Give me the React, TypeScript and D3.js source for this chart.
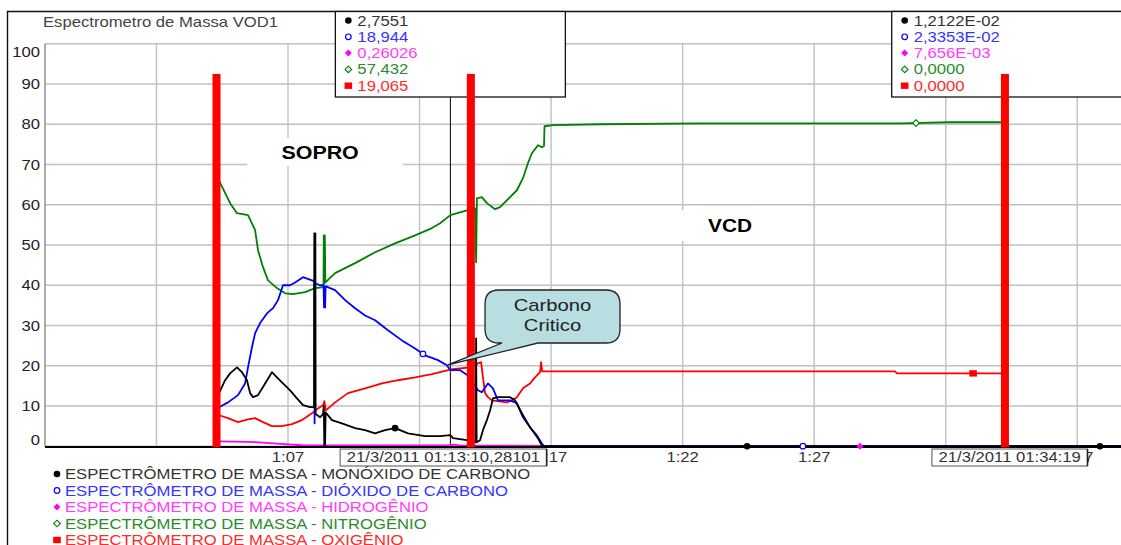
import React from "react";
import * as d3 from "d3";

type Pt = [number, number]; // [minutes after 01:00:00, % value]

// ---- series (minutes after 01:00, %) ----
const monoxido: Pt[] = [
  [4.38, 13.2], [4.61, 16.4], [4.8, 18.1], [5.06, 19.6], [5.25, 18.4], [5.44, 16.4], [5.56, 13.2],
  [5.67, 12.2], [5.86, 12.7], [6.13, 15.6], [6.39, 18.4], [6.58, 17.1], [6.81, 15.6], [7.08, 13.9],
  [7.34, 11.9], [7.57, 10.2], [7.84, 9.7], [7.99, 9.7], [8.0, 52.9], [8.04, 52.9], [8.05, 8.0],
  [8.22, 7.2], [8.33, 8.0], [8.36, 10.0], [8.38, 0], [8.41, 0], [8.43, 8.4], [8.67, 6.5], [9.05, 5.7],
  [9.55, 4.5], [9.93, 4.0], [10.31, 3.2], [10.69, 4.0], [11.07, 4.5], [11.56, 3.2], [12.21, 2.5],
  [12.78, 2.5], [13.27, 2.0], [13.8, 1.5], [14.13, 1.0], [14.15, 26.8], [14.17, 1.0], [14.3, 1.5],
  [14.41, 4.0], [14.56, 6.5], [14.68, 8.9], [14.79, 11.9], [14.98, 12.2], [15.44, 12.2], [15.63, 11.4],
  [15.89, 8.2], [16.2, 4.7], [16.5, 2.0], [16.65, 0.2], [16.75, 0.01], [38.66, 0.01],
];

const dioxido: Pt[] = [
  [4.38, 9.7], [4.72, 10.9], [5.1, 12.7], [5.37, 15.6], [5.48, 19.6], [5.63, 24.6], [5.75, 28.1],
  [5.94, 30.6], [6.2, 33.0], [6.43, 34.3], [6.62, 36.3], [6.81, 40.0], [7.08, 40.0], [7.27, 40.7],
  [7.57, 42.0], [7.91, 41.2], [8.0, 41.0], [8.01, 5.7], [8.03, 40.5], [8.22, 40.0], [8.35, 40.0], [8.37, 34.5],
  [8.39, 39.5], [8.41, 34.5], [8.43, 39.8], [8.6, 39.3], [8.79, 38.8], [9.17, 36.3], [9.55, 34.3],
  [9.93, 32.5], [10.31, 31.3], [10.8, 28.8], [11.33, 26.3], [11.83, 24.3], [12.21, 22.6], [12.7, 21.4],
  [13.04, 20.1], [13.54, 18.9], [13.84, 17.6], [14.22, 13.9], [14.37, 13.4], [14.6, 15.6], [14.79, 14.4],
  [14.98, 11.4], [15.44, 11.4], [15.7, 10.7], [15.93, 7.2], [16.2, 4.7], [16.46, 2.7], [16.65, 0.7],
  [16.73, 0.02], [38.66, 0.02],
];

const hidrogenio: Pt[] = [
  [4.38, 1.2], [5.48, 1.1], [5.75, 1.0], [6.7, 0.6], [7.53, 0.25], [8.22, 0.2], [13.3, 0.4],
  [13.5, 0.2], [16.77, 0.1], [16.9, 0.01], [38.66, 0.01],
];

const nitrogenio: Pt[] = [
  [4.38, 66.0], [4.8, 60.4], [5.06, 57.9], [5.48, 57.4], [5.75, 53.7], [5.86, 48.7], [6.05, 44.5],
  [6.24, 41.2], [6.58, 39.3], [6.89, 38.0], [7.19, 37.8], [7.65, 38.3], [8.03, 39.3], [8.29, 39.5],
  [8.35, 40.0], [8.36, 52.4], [8.38, 40.5], [8.4, 52.4], [8.42, 40.7], [8.79, 43.0], [9.55, 45.5],
  [10.31, 48.2], [11.07, 50.4], [11.83, 52.4], [12.47, 54.2], [12.78, 55.4], [13.8, 58.6], [14.11, 59.1],
  [14.15, 45.7], [14.18, 61.6], [14.37, 61.9], [14.56, 60.4], [14.87, 58.9], [15.06, 59.4], [15.44, 61.9],
  [15.7, 63.6], [15.93, 66.6], [16.12, 70.3], [16.27, 72.8], [16.5, 74.8], [16.65, 74.3], [16.73, 74.6],
  [16.75, 79.5], [17.07, 79.8], [18.86, 80.0], [22.66, 80.2], [30.26, 80.2], [32.16, 80.5], [34.26, 80.5],
  [34.27, 39.5], [34.31, 39.5], [38.66, 0],
];

const oxigenio: Pt[] = [
  [4.38, 7.7], [4.72, 7.0], [5.1, 6.0], [5.48, 6.7], [5.75, 7.0], [6.05, 6.0], [6.39, 5.0], [6.77, 5.0],
  [7.15, 5.5], [7.53, 6.5], [7.91, 8.2], [8.14, 9.4], [8.33, 10.2], [8.38, 11.2], [8.44, 8.9], [8.79, 10.9],
  [9.28, 13.2], [9.93, 14.4], [10.57, 15.6], [11.18, 16.4], [11.83, 17.1], [12.47, 17.9], [12.78, 18.4],
  [13.92, 19.6], [14.22, 20.6], [14.34, 20.9], [14.41, 17.1], [14.49, 13.2], [14.6, 12.2], [14.75, 11.4],
  [15.32, 10.9], [15.51, 11.4], [15.7, 12.2], [15.93, 14.4], [16.2, 15.6], [16.39, 17.1], [16.58, 18.4],
  [16.62, 20.9], [16.66, 18.6], [18.86, 18.6], [30.07, 18.6], [30.15, 18.1], [34.25, 18.1], [34.26, 0],
  [38.66, 0],
];

// symbol positions along each series (minutes after 01:00)
const monoxidoMarks = [11.07, 24.45, 37.86];
const dioxidoMarks = [12.13, 26.57];
const hidrogenioMarks = [28.74];
const nitrogenioMarks = [30.87];
const oxigenioMarks = [33.04];

const seriesNames = [
  "ESPECTRÔMETRO DE MASSA - MONÓXIDO DE CARBONO",
  "ESPECTRÔMETRO DE MASSA - DIÓXIDO DE CARBONO",
  "ESPECTRÔMETRO DE MASSA - HIDROGÊNIO",
  "ESPECTRÔMETRO DE MASSA - NITROGÊNIO",
  "ESPECTRÔMETRO DE MASSA - OXIGÊNIO",
];

// cursor read-outs
const cursorStamps = ["21/3/2011 01:13:10,28101", "21/3/2011 01:34:19"];
const readingsA = [2.7551, 18.944, 0.26026, 57.432, 19.065];
const readingsB = [0.012122, 0.023353, 0.007656, 0, 0];

// event bars (time) and their top (%)
const eventTimes = ["01:04:17", "01:13:57", "01:34:15"];
const eventTop = 92.5;

const gridMinutes = [2, 7, 12, 17, 22, 27, 32, 37];
const xTickLabels = ["1:07", "1:17", "1:22", "1:27", "1:37"];
const yTicks = [0, 10, 20, 30, 40, 50, 60, 70, 80, 90, 100];

const W = 1121;
const H = 545;
const FONT = "'Liberation Sans', Arial, Helvetica, sans-serif";
const SX = 1.19;

const parseClock = (s: string): number => {
  const [h, m, sec] = s.split(":");
  return (+h - 1) * 60 + +m + parseFloat(sec.replace(",", ".")) / 60;
};
const stampMinutes = (s: string) => parseClock(s.split(" ")[1]);

const fmtReading = (v: number): string => {
  if (v === 0) return "0,0000";
  if (Math.abs(v) < 0.1) {
    const [mant, exp] = v.toExponential(4).split("e");
    const e = parseInt(exp, 10);
    const m = mant.replace(/0+$/, "").replace(".", ",");
    return `${m}E${e < 0 ? "-" : "+"}${String(Math.abs(e)).padStart(2, "0")}`;
  }
  return d3.format(".5")(v).replace(".", ",");
};

const charW = (c: string) => (/[0-9]/.test(c) ? 0.556 : 0.278);
const textWidth = (s: string, size: number) =>
  s.split("").reduce((a, c) => a + charW(c), 0) * size * SX;

type MarkKind = "dot" | "ring" | "diamondFill" | "diamond" | "square";

const x = d3.scaleLinear().domain([-2.236, 38.661]).range([45, 1121]);
const y = d3.scaleLinear().domain([0, 100]).range([446.25, 43.75]);

function Txt(props: {
  x: number; y: number; anchor?: string; size?: number; weight?: string | number; fill?: string;
  children: React.ReactNode;
}) {
  const { anchor = "start", size = 14, weight = "normal", fill = "#000" } = props;
  return (
    <text
      transform={`translate(${props.x},${props.y}) scale(${SX},1)`}
      textAnchor={anchor as any}
      fontSize={size}
      fontWeight={weight as any}
      fill={fill}
      fontFamily={FONT}
    >
      {props.children}
    </text>
  );
}

function Mark({ kind, cx, cy, color }: { kind: MarkKind; cx: number; cy: number; color: string }) {
  switch (kind) {
    case "dot":
      return <circle cx={cx} cy={cy} r={3.3} fill={color} />;
    case "ring":
      return <circle cx={cx} cy={cy} r={2.8} fill="#fff" stroke={color} strokeWidth={1.2} />;
    case "diamondFill":
      return <path d={`M${cx},${cy - 3.5}L${cx + 3.5},${cy}L${cx},${cy + 3.5}L${cx - 3.5},${cy}Z`} fill={color} />;
    case "diamond":
      return (
        <path
          d={`M${cx},${cy - 3.3}L${cx + 3.3},${cy}L${cx},${cy + 3.3}L${cx - 3.3},${cy}Z`}
          fill="#fff"
          stroke={color}
          strokeWidth={1.1}
        />
      );
    default:
      return <rect x={cx - 3.8} y={cy - 3.2} width={7.6} height={6.4} fill={color} />;
  }
}

export default function App() {
  const tA = stampMinutes(cursorStamps[0]);
  const tB = stampMinutes(cursorStamps[1]);

  const raw = [monoxido, dioxido, hidrogenio, nitrogenio, oxigenio];
  const marks = [monoxidoMarks, dioxidoMarks, hidrogenioMarks, nitrogenioMarks, oxigenioMarks];
  const lineColors = ["#000000", "#0000ff", "#ff00ff", "#008000", "#ff0000"];
  const textColors = ["#333333", "#3535ff", "#ff3cff", "#2a8c2a", "#ff2a2a"];
  const kinds: MarkKind[] = ["dot", "ring", "diamondFill", "diamond", "square"];
  // paint order of the traces: carbon monoxide ends up on top
  const paintOrder = [2, 3, 4, 1, 0];

  const series = raw.map((d, i) => {
    const pts: Pt[] = [...d, [tA, readingsA[i]], [tB, readingsB[i]]];
    pts.sort((a, b) => a[0] - b[0]);
    return pts;
  });

  const interp = (pts: Pt[], t: number) => {
    const i = d3.bisector((p: Pt) => p[0]).left(pts, t);
    if (i <= 0) return pts[0][1];
    if (i >= pts.length) return pts[pts.length - 1][1];
    const [t0, v0] = pts[i - 1];
    const [t1, v1] = pts[i];
    return v0 + ((v1 - v0) * (t - t0)) / (t1 - t0 || 1);
  };

  const line = d3
    .line<Pt>()
    .x((d) => x(d[0]))
    .y((d) => y(d[1]));

  const cursors = [
    { t: tA, stamp: cursorStamps[0], readings: readingsA, boxShift: -7 },
    { t: tB, stamp: cursorStamps[1], readings: readingsB, boxShift: 3 },
  ];

  const x0 = x.range()[0];
  const x1 = x.range()[1];

  // callout geometry
  const bx0 = 485, bx1 = 620, by0 = 290, by1 = 343, r = 14;
  const tipX = x(13.08), tipY = y(20.2);
  const callout =
    `M${bx0 + r},${by0} L${bx1 - r},${by0} Q${bx1},${by0} ${bx1},${by0 + r} ` +
    `L${bx1},${by1 - r} Q${bx1},${by1} ${bx1 - r},${by1} L538,${by1} L${tipX},${tipY} L502,${by1} ` +
    `L${bx0 + r},${by1} Q${bx0},${by1} ${bx0},${by1 - r} L${bx0},${by0 + r} Q${bx0},${by0} ${bx0 + r},${by0} Z`;

  return (
    <div style={{ position: "absolute", left: 0, top: 0 }}>
      <svg width={W} height={H} viewBox={`0 0 ${W} ${H}`} style={{ display: "block", background: "#fff" }}>
        <rect x={0} y={0} width={W} height={H} fill="#fff" />
        {/* outer frame */}
        <path d={`M7.5,${H} L7.5,11.5 L${W},11.5`} fill="none" stroke="#111" strokeWidth={1.4} />

        {/* title */}
        <Txt x={43} y={27} fill="#444">Espectrometro de Massa VOD1</Txt>

        {/* grid */}
        <g stroke="#c0c0c0" strokeWidth={1.4}>
          {yTicks.map((v) => (
            <line key={"h" + v} x1={x0} x2={x1} y1={y(v)} y2={y(v)} />
          ))}
          {gridMinutes.map((m) => (
            <line key={"v" + m} x1={x(m)} x2={x(m)} y1={y(100)} y2={y(0)} />
          ))}
        </g>
        <line x1={x0} x2={x0} y1={y(100)} y2={y(0)} stroke="#8a8a8a" strokeWidth={1.4} />

        {/* y labels */}
        {yTicks.map((v) => (
          <Txt key={"yl" + v} x={40} y={Math.min(445, Math.max(57, y(v) + 5))} anchor="end" fill="#222">
            {v}
          </Txt>
        ))}

        {/* section labels */}
        <rect x={247} y={138} width={156} height={28} fill="#fff" />
        <Txt x={x(8.22)} y={159} anchor="middle" size={18} weight="bold" fill="#000">SOPRO</Txt>
        <rect x={662} y={210} width={140} height={31} fill="#fff" />
        <Txt x={x(23.8)} y={232} anchor="middle" size={17.5} weight="bold" fill="#000">VCD</Txt>

        {/* cursor lines */}
        {cursors.map((c, i) => (
          <line key={"cl" + i} x1={x(c.t)} x2={x(c.t)} y1={97} y2={y(0)} stroke="#000" strokeWidth={1} />
        ))}

        {/* series */}
        <g fill="none" strokeLinejoin="round">
          {paintOrder.map((i) => (
            <path key={"s" + i} d={line(series[i]) || ""} stroke={lineColors[i]} strokeWidth={1.8} />
          ))}
        </g>

        {/* x axis */}
        <line x1={x0} x2={x1} y1={y(0) + 0.8} y2={y(0) + 0.8} stroke="#000" strokeWidth={2} />

        {/* series symbols */}
        {series.map((pts, i) =>
          marks[i].map((t, j) => (
            <Mark key={`m${i}-${j}`} kind={kinds[i]} cx={x(t)} cy={y(interp(pts, t))} color={lineColors[i]} />
          ))
        )}

        {/* x labels */}
        {xTickLabels.map((lab) => {
          const m = parseClock(lab + ":00");
          return (
            <Txt key={"xl" + lab} x={x(m)} y={462} anchor="middle" fill="#333">
              {lab}
            </Txt>
          );
        })}

        {/* cursor read-out boxes */}
        {cursors.map((c, i) => {
          const cx = x(c.t);
          const left = cx - 115;
          const tw = textWidth(c.stamp, 14) + 12;
          const bcx = cx + c.boxShift;
          return (
            <g key={"cb" + i}>
              <rect x={left} y={11.5} width={230} height={85.5} fill="#fff" stroke="#111" strokeWidth={1.3} />
              {c.readings.map((v, k) => {
                const ry = 20.5 + k * 16.3;
                return (
                  <g key={k}>
                    <Mark kind={kinds[k]} cx={left + 13} cy={ry} color={lineColors[k]} />
                    <Txt x={left + 22} y={ry + 5} fill={textColors[k]}>
                      {fmtReading(v)}
                    </Txt>
                  </g>
                );
              })}
              <rect x={bcx - tw / 2} y={449} width={tw} height={17} fill="#fff" stroke="#555" strokeWidth={1} />
              <line x1={bcx + tw / 2} x2={bcx + tw / 2} y1={449} y2={466} stroke="#222" strokeWidth={1.6} />
              <Txt x={bcx} y={462} anchor="middle" fill="#333">
                {c.stamp}
              </Txt>
            </g>
          );
        })}

        {/* event bars */}
        {eventTimes.map((t) => (
          <rect
            key={"ev" + t}
            x={x(parseClock(t)) - 4}
            y={y(eventTop)}
            width={8}
            height={y(0) - y(eventTop) + 1}
            fill="#ff0000"
          />
        ))}

        {/* callout */}
        <path d={callout} fill="#b8dee2" stroke="#222" strokeWidth={1.3} />
        <Txt x={(bx0 + bx1) / 2} y={311} anchor="middle" size={17} fill="#222">Carbono</Txt>
        <Txt x={(bx0 + bx1) / 2} y={331} anchor="middle" size={17} fill="#222">Critico</Txt>

        {/* legend */}
        {seriesNames.map((name, i) => {
          const ly = 474 + i * 16.5;
          return (
            <g key={"lg" + i}>
              <Mark kind={kinds[i]} cx={57} cy={ly} color={lineColors[i]} />
              <Txt x={65} y={ly + 5} fill={textColors[i]}>
                {name}
              </Txt>
            </g>
          );
        })}
      </svg>
    </div>
  );
}
